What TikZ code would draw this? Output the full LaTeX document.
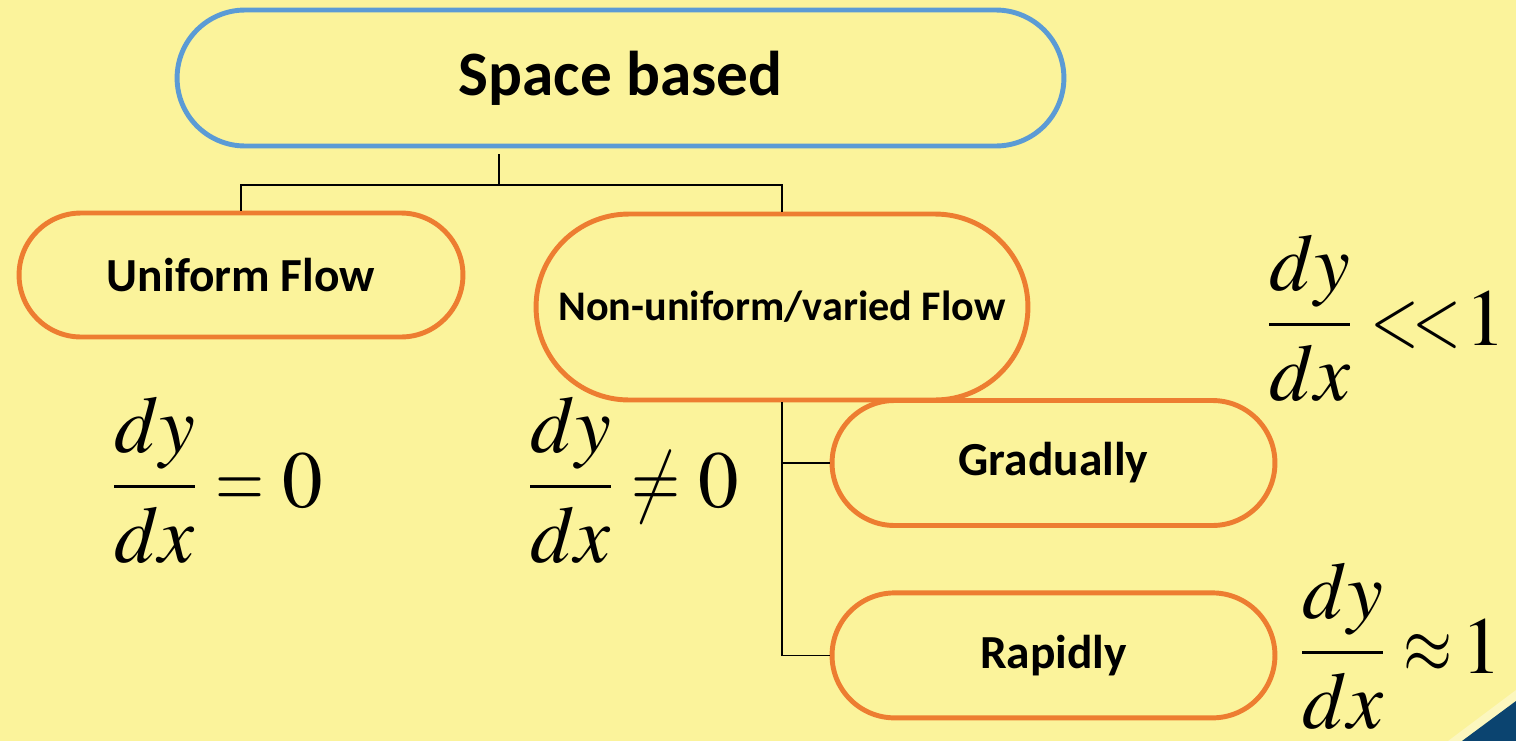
\documentclass[tikz,border=0pt]{standalone}
\usepackage{amsmath}
\usepackage{graphicx}
\usepackage{mathptmx}
\usepackage[no-math]{fontspec}
\setsansfont{Carlito}
\usepackage{xcolor}
\usetikzlibrary{positioning, calc}

\definecolor{bgyellow}{HTML}{FBF39B}
\definecolor{boxblue}{HTML}{5B9BD5}
\definecolor{boxorange}{HTML}{ED7D31}
\definecolor{cornernavy}{HTML}{0B4470}

% narrower relation signs, axis kept
\newcommand{\slimrel}[1]{\mathrel{\scalebox{0.78}[1]{$#1$}}}

\begin{document}
\begin{tikzpicture}[
    x=0.02cm, y=-0.02cm,
    topnode/.style={rectangle, draw=boxblue, line width=2.8pt, fill=bgyellow, rounded corners=1.36cm, minimum width=17.74cm, minimum height=2.72cm, font=\fontsize{36}{40}\selectfont\sffamily\bfseries},
    flownode/.style={rectangle, draw=boxorange, line width=2.8pt, fill=bgyellow, align=center, font=\fontsize{27}{32}\selectfont\sffamily\bfseries},
    eqn/.style={anchor=base west, inner sep=0pt, font=\fontsize{46}{50}\selectfont},
    conn/.style={draw=black, line width=0.8pt}
]

% Background
\fill[bgyellow] (0,0) rectangle (1516,741);
\useasboundingbox (0,0) rectangle (1516,741);
\fill[white!35!bgyellow] (1448,741) -- (1516,690) -- (1516,701) -- (1462,741) -- cycle;
\fill[cornernavy] (1462,741) -- (1516,701) -- (1516,741) -- cycle;

% Nodes
\node[topnode] (space) at (620.5,78) {Space based};
\node[flownode, minimum width=8.88cm, minimum height=2.48cm, rounded corners=1.24cm] (uniform) at (241,275) {Uniform Flow};
\node[flownode, minimum width=9.84cm, minimum height=3.72cm, rounded corners=1.86cm, font=\fontsize{24}{28}\selectfont\sffamily\bfseries] (nonuni) at (782,307) {Non-uniform/varied Flow};
\node[flownode, minimum width=8.86cm, minimum height=2.5cm, rounded corners=1.25cm] (grad) at (1053.5,463) {Gradually};
\node[flownode, minimum width=8.86cm, minimum height=2.5cm, rounded corners=1.25cm, below=1.25cm of grad] (rapid) {Rapidly};

% Equations
\node[eqn] (eqzero) at (112,507) {$\dfrac{dy}{dx}\slimrel{=}0$};
\node[eqn] (eqneq) at (528,507) {$\dfrac{dy}{dx}\slimrel{\neq}0$};
\node[eqn] (eqgrad) at (1267,345) {$\dfrac{dy}{dx}\slimrel{<\mkern-2mu<}\mkern-3mu 1$};
\node[eqn] (eqrapid) at (1300,673) {$\dfrac{dy}{dx}\slimrel{\approx}\mkern-2mu 1$};

% Tree lines
\coordinate (split) at (499,185);
\draw[conn, shorten <=0.12cm] (space.south -| split) -- (split);
\draw[conn] (uniform.north) |- (split) -| (nonuni.north);
\draw[conn] (nonuni.south) |- (grad.west);
\draw[conn] (nonuni.south) |- (rapid.west);

\end{tikzpicture}
\end{document}
